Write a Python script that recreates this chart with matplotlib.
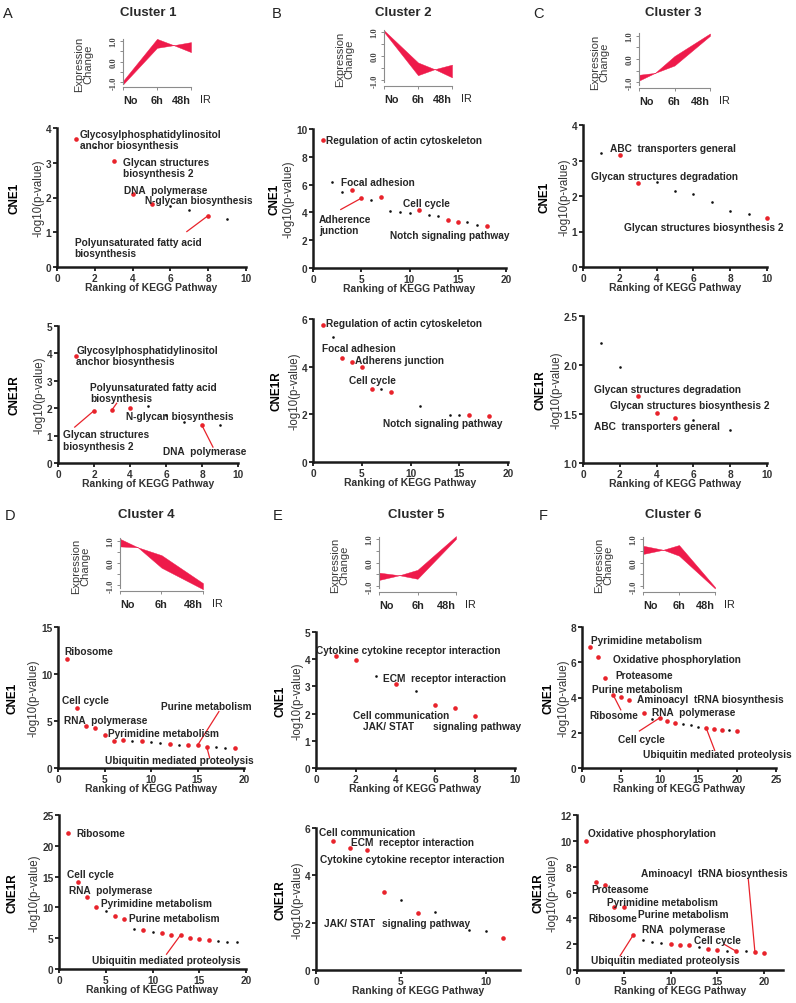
import matplotlib
matplotlib.use('Agg')
import matplotlib.pyplot as plt
from matplotlib.ticker import FuncFormatter

plt.rcParams['font.family'] = ['Liberation Sans', 'DejaVu Sans']

# ---------------- DATA ----------------
time_labels = ["No", "6h", "48h"]

# expression-change bands (x in time-index units, upper / lower envelope)
c1_x = [0, 1, 1.49, 2];  c1_hi = [-0.95, 1.11, 0.80, 0.95];  c1_lo = [-1.12, 0.67, 0.80, 0.46]
c2_x = [0, 1, 1.49, 2];  c2_hi = [1.07, -0.27, -0.55, -0.36]; c2_lo = [1.00, -0.80, -0.55, -0.89]
c3_x = [0, 0.45, 1, 2];  c3_hi = [-0.68, -0.60, 0.13, 1.10];  c3_lo = [-0.93, -0.60, -0.28, 1.00]
c4_x = [0, 0.43, 1, 2];  c4_hi = [1.08, 0.70, 0.35, -0.90];   c4_lo = [0.74, 0.70, -0.21, -1.17]
c5_x = [0, 0.53, 1, 2];  c5_hi = [-0.43, -0.54, -0.31, 1.12]; c5_lo = [-0.74, -0.54, -0.69, 1.00]
c6_x = [0, 0.56, 1, 2];  c6_hi = [0.71, 0.54, 0.74, -1.04];   c6_lo = [0.36, 0.54, 0.29, -1.10]

# Cluster 1
a1_rank = [1, 2, 3, 4, 5, 6, 7, 8, 9]
a1_val = [3.68, 3.44, 3.06, 2.10, 1.82, 1.76, 1.63, 1.48, 1.38]
a1_sig = [1, 0, 1, 1, 1, 0, 0, 1, 0]
a1_terms = ["Glycosylphosphatidylinositol\nanchor biosynthesis", "Glycan structures\nbiosynthesis 2",
            "DNA  polymerase", "N-glycan biosynthesis", "Polyunsaturated fatty acid\nbiosynthesis"]
a2_rank = [1, 2, 3, 4, 5, 6, 7, 8, 9]
a2_val = [3.89, 1.91, 1.94, 2.00, 2.09, 1.75, 1.49, 1.37, 1.39]
a2_sig = [1, 1, 1, 1, 0, 0, 0, 1, 0]
a2_terms = ["Glycosylphosphatidylinositol\nanchor biosynthesis", "Polyunsaturated fatty acid\nbiosynthesis",
            "N-glycan biosynthesis", "Glycan structures\nbiosynthesis 2", "DNA  polymerase"]

# Cluster 2
b1_rank = list(range(1, 19))
b1_val = [9.23, 6.22, 5.45, 5.62, 5.02, 4.90, 5.14, 4.07, 4.02, 3.95, 4.14, 3.83, 3.71, 3.42, 3.33, 3.33, 3.11, 3.01]
b1_sig = [1, 0, 0, 1, 1, 0, 1, 0, 0, 0, 1, 0, 0, 1, 1, 0, 0, 1]
b1_terms = ["Regulation of actin cytoskeleton", "Focal adhesion", "Adherence\njunction", "Cell cycle",
            "Notch signaling pathway"]
b2_rank = [1, 2, 3, 4, 5, 6, 7, 8, 11, 14, 15, 16, 18]
b2_val = [5.75, 5.23, 4.37, 4.21, 3.97, 3.07, 3.07, 2.93, 2.34, 1.99, 1.99, 1.99, 1.95]
b2_sig = [1, 0, 1, 1, 1, 1, 0, 1, 0, 0, 0, 1, 1]
b2_terms = ["Regulation of actin cytoskeleton", "Focal adhesion", "Adherens junction", "Cell cycle",
            "Notch signaling pathway"]

# Cluster 3
c1s_rank = list(range(1, 11))
c1s_val = [3.20, 3.15, 2.36, 2.40, 2.13, 2.06, 1.84, 1.57, 1.48, 1.38]
c1s_sig = [0, 1, 1, 0, 0, 0, 0, 0, 0, 1]
c1s_terms = ["ABC  transporters general", "Glycan structures degradation", "Glycan structures biosynthesis 2"]
c2s_rank = [1, 2, 3, 4, 5, 6, 8]
c2s_val = [2.22, 1.975, 1.68, 1.51, 1.457, 1.44, 1.34]
c2s_sig = [0, 0, 1, 1, 1, 0, 0]
c2s_terms = ["Glycan structures degradation", "Glycan structures biosynthesis 2", "ABC  transporters general"]

# Cluster 4
d1_rank = list(range(1, 20))
d1_val = [11.63, 6.42, 4.47, 4.26, 3.55, 2.87, 2.94, 2.84, 2.84, 2.77, 2.70, 2.59, 2.48, 2.41, 2.41, 2.23, 2.23, 2.16, 2.13]
d1_sig = [1, 1, 1, 1, 1, 1, 1, 0, 1, 0, 0, 1, 0, 1, 1, 1, 0, 0, 1]
d1_terms = ["Ribosome", "Cell cycle", "RNA  polymerase", "Pyrimidine metabolism", "Purine metabolism",
            "Ubiquitin mediated proteolysis"]
d2_rank = list(range(1, 20))
d2_val = [22.08, 14.2, 11.63, 10.0, 9.47, 8.66, 8.12, 6.49, 6.33, 5.95, 5.79, 5.57, 5.52, 4.98, 4.87, 4.76, 4.6, 4.33, 4.33]
d2_sig = [1, 1, 1, 1, 0, 1, 1, 0, 1, 0, 1, 1, 1, 1, 1, 1, 0, 0, 0]
d2_terms = ["Ribosome", "Cell cycle", "RNA  polymerase", "Pyrimidine metabolism", "Purine metabolism",
            "Ubiquitin mediated proteolysis"]

# Cluster 5
e1_rank = [1, 2, 3, 4, 5, 6, 7, 8]
e1_val = [4.10, 3.98, 3.39, 3.09, 2.84, 2.32, 2.20, 1.90]
e1_sig = [1, 1, 0, 1, 0, 1, 1, 1]
e1_terms = ["Cytokine cytokine receptor interaction", "ECM  receptor interaction", "Cell communication",
            "JAK/ STAT", "signaling pathway"]
e2_rank = [1, 2, 3, 4, 5, 6, 7, 9, 10, 11]
e2_val = [5.47, 5.15, 5.09, 3.31, 2.97, 2.40, 2.43, 1.68, 1.63, 1.37]
e2_sig = [1, 1, 1, 1, 0, 1, 0, 0, 0, 1]
e2_terms = ["Cell communication", "ECM  receptor interaction", "Cytokine cytokine receptor interaction",
            "JAK/ STAT", "signaling pathway"]

# Cluster 6
f1_rank = [1, 2, 3, 4, 5, 6, 8, 9, 10, 11, 12, 13, 14, 15, 16, 17, 18, 19, 20]
f1_val = [6.86, 6.30, 5.12, 4.16, 4.03, 3.84, 3.14, 2.80, 2.84, 2.67, 2.55, 2.48, 2.42, 2.35, 2.27, 2.23, 2.14, 2.14, 2.08]
f1_sig = [1, 1, 1, 1, 1, 1, 1, 0, 1, 1, 1, 0, 0, 0, 1, 1, 1, 0, 1]
f1_terms = ["Pyrimidine metabolism", "Oxidative phosphorylation", "Proteasome", "Purine metabolism",
            "Aminoacyl  tRNA biosynthesis", "Ribosome", "RNA  polymerase", "Cell cycle",
            "Ubiquitin mediated proteolysis"]
f2_rank = list(range(1, 21))
f2_val = [10.0, 6.8, 6.6, 4.9, 4.9, 2.7, 2.3, 2.2, 2.1, 2.0, 1.95, 1.95, 1.75, 1.65, 1.55, 1.5, 1.45, 1.45, 1.4, 1.35]
f2_sig = [1, 1, 1, 1, 1, 1, 0, 0, 0, 1, 1, 1, 0, 1, 1, 0, 1, 0, 1, 1]
f2_terms = ["Oxidative phosphorylation", "Aminoacyl  tRNA biosynthesis", "Proteasome", "Pyrimidine metabolism",
            "Purine metabolism", "Ribosome", "RNA  polymerase", "Cell cycle", "Ubiquitin mediated proteolysis"]

# ---------------- LAYOUT / STYLE ----------------
W, H = 796, 1004
fig = plt.figure(figsize=(W / 100, H / 100), dpi=100)
RED = '#e8232b'
BAND = '#ee1a4a'
TXT = '#262626'
GRAY = '#8c8c8c'


def rect(l, r, t, b):
    return [l / W, 1 - b / H, (r - l) / W, (b - t) / H]


def ftext(x, y, s, **kw):
    fig.text(x / W, 1 - y / H, s, **kw)


def mini(px, xs, hi, lo):
    l, r, t, b = px
    ax = fig.add_axes(rect(l, r, t, b))
    ax.fill_between(xs, lo, hi, color=BAND, lw=0.3, edgecolor=BAND)
    ax.set_xlim(0, 2)
    ax.set_ylim(-1.25, 1.25)
    for s in ['top', 'right']:
        ax.spines[s].set_visible(False)
    for s in ['left', 'bottom']:
        ax.spines[s].set_color(GRAY)
        ax.spines[s].set_linewidth(0.8)
    ax.spines['left'].set_bounds(-1.1, 1.1)
    ax.set_yticks([-1, -0.5, 0, 0.5, 1])
    ax.set_yticklabels(['-1.0', '', '0.0', '', '1.0'], rotation=90, va='center',
                       fontsize=6, fontweight='bold', family='Liberation Serif', color='#444')
    ax.set_xticks([0, 1, 2])
    ax.set_xticklabels(time_labels, fontsize=7.8, fontweight='bold', color=TXT)
    for lab, ha in zip(ax.get_xticklabels(), ['left', 'center', 'right']):
        lab.set_ha(ha)
    ax.tick_params(axis='both', color=GRAY, length=2.5, width=0.7, pad=1.5)
    ax.tick_params(axis='x', pad=3)
    ftext(r + 9, b + 12, 'IR', fontsize=7.8, color=TXT, ha='left', va='center')
    ftext(l - 39, (t + b) / 2 + 2, 'Expression\nChange', fontsize=8, color='#3a3a3a',
          rotation=90, ha='center', va='center', linespacing=0.95)
    return ax


def scat(px, xlim, ylim, xticks, yticks, ranks, vals, sig, terms, tpos, leaders, row, row_x,
         yfmt=None):
    l, r, t, b = px
    ax = fig.add_axes(rect(l, r, t, b))
    rr = [x for x, s in zip(ranks, sig) if s]
    rv = [v for v, s in zip(vals, sig) if s]
    br = [x for x, s in zip(ranks, sig) if not s]
    bv = [v for v, s in zip(vals, sig) if not s]
    ax.scatter(br, bv, s=3.5, color='#111111', lw=0, zorder=3, clip_on=False)
    ax.scatter(rr, rv, s=11, color=RED, lw=0, zorder=4, clip_on=False)
    for term, (x, y) in zip(terms, tpos):
        ax.text(x, y, term, fontsize=7.3, fontweight='bold', color=TXT, ha='left', va='center',
                linespacing=1.15, zorder=5, clip_on=False)
    for rk, ex, ey in leaders:
        v = vals[ranks.index(rk)]
        ax.plot([rk, ex], [v, ey], color=RED, lw=0.9, zorder=4, clip_on=False)
    ax.set_xlim(*xlim)
    ax.set_ylim(*ylim)
    ax.set_xticks(xticks)
    ax.set_yticks(yticks)
    if yfmt:
        ax.yaxis.set_major_formatter(FuncFormatter(lambda v, p: yfmt.format(v)))
    for s in ['top', 'right']:
        ax.spines[s].set_visible(False)
    for s in ['left', 'bottom']:
        ax.spines[s].set_linewidth(1.8)
        ax.spines[s].set_color('#1a1a1a')
    ax.tick_params(axis='both', length=3, width=1.3, color='#1a1a1a', pad=1.0, labelsize=7.3,
                   labelcolor='#333333')
    for lab in ax.get_xticklabels() + ax.get_yticklabels():
        lab.set_fontweight('bold')
    ftext((l + r) / 2, b + 20, 'Ranking of KEGG Pathway', fontsize=7.5, fontweight='bold',
          color='#333333', ha='center', va='center')
    ax.set_ylabel('-log10(p-value)', fontsize=8.3, color='#333333', labelpad=1.0)
    ftext(row_x, (t + b) / 2, row, fontsize=8.5, fontweight='bold', color='black', rotation=90,
          ha='center', va='center')
    return ax


# panel letters & titles
for letter, lx, ly, title, tx in [('A', 8, 14, 'Cluster 1', 148), ('B', 277, 14, 'Cluster 2', 403),
                                  ('C', 538, 14, 'Cluster 3', 673), ('D', 10, 516, 'Cluster 4', 146),
                                  ('E', 278, 516, 'Cluster 5', 416), ('F', 543, 516, 'Cluster 6', 673)]:
    ftext(lx, ly, letter, fontsize=10.5, color='#222', ha='center', va='center')
    ftext(tx, ly - 1, title, fontsize=9.5, fontweight='bold', color='#2a2a2a', ha='center', va='center')

# mini expression plots (l, r, t, b in pixels)
mini((123, 191, 37, 88), c1_x, c1_hi, c1_lo)
mini((384, 452, 27, 87), c2_x, c2_hi, c2_lo)
mini((639, 710, 31, 89), c3_x, c3_hi, c3_lo)
mini((120, 203, 536, 592), c4_x, c4_hi, c4_lo)
mini((379, 456, 534, 593), c5_x, c5_hi, c5_lo)
mini((643, 715, 534, 593), c6_x, c6_hi, c6_lo)

# scatter panels
scat((57, 246, 129, 268), (0, 10), (0, 4), range(0, 11, 2), range(0, 5),
     a1_rank, a1_val, a1_sig, a1_terms,
     [(1.2, 3.67), (3.5, 2.86), (3.56, 2.23), (4.65, 1.94), (0.94, 0.57)],
     [(8, 6.87, 1.02)], 'CNE1', 15)
scat((58, 238, 327, 464), (0, 10), (0, 5), range(0, 11, 2), range(0, 6),
     a2_rank, a2_val, a2_sig, a2_terms,
     [(1.02, 3.91), (1.8, 2.58), (3.8, 1.73), (0.28, 0.84), (5.83, 0.44)],
     [(3, 3.26, 2.18), (2, 0.93, 1.31), (8, 8.61, 0.58)], 'CNE1R', 15)
scat((313, 506, 130, 269), (0, 20), (0, 10), range(0, 21, 5), range(0, 11, 2),
     b1_rank, b1_val, b1_sig, b1_terms,
     [(1.39, 9.23), (2.95, 6.17), (0.62, 3.15), (9.36, 4.67), (7.97, 2.34)],
     [(5, 2.88, 4.21)], 'CNE1', 274)
scat((313, 508, 320, 463), (0, 20), (0, 6), range(0, 21, 5), range(0, 7, 2),
     b2_rank, b2_val, b2_sig, b2_terms,
     [(1.37, 5.83), (0.92, 4.77), (4.34, 4.28), (3.66, 3.42), (7.18, 1.65)],
     [], 'CNE1R', 277)
scat((583, 767, 126, 268), (0, 10), (0, 4), range(0, 11, 2), range(0, 5),
     c1s_rank, c1s_val, c1s_sig, c1s_terms,
     [(1.49, 3.36), (0.43, 2.57), (2.25, 1.12)],
     [], 'CNE1', 545)
scat((583, 767, 317, 464), (0, 10), (1.0, 2.5), range(0, 11, 2), [1.0, 1.5, 2.0, 2.5],
     c2s_rank, c2s_val, c2s_sig, c2s_terms,
     [(0.62, 1.76), (1.49, 1.59), (0.62, 1.38)],
     [], 'CNE1R', 541, yfmt='{:.1f}')

scat((58, 244, 628, 769), (0, 20), (0, 15), range(0, 21, 5), range(0, 16, 5),
     d1_rank, d1_val, d1_sig, d1_terms,
     [(0.66, 12.45), (0.38, 7.2), (0.66, 5.14), (5.42, 3.76), (11.07, 6.56), (5.04, 0.82)],
     [(15, 17.3, 6.0), (16, 16.3, 1.1)], 'CNE1', 13)
scat((316, 515, 633, 769), (0, 10), (0, 5), range(0, 11, 2), range(0, 6),
     e1_rank, e1_val, e1_sig, e1_terms,
     [(0.0, 4.34), (3.38, 3.3), (1.87, 1.96), (2.36, 1.54), (5.9, 1.54)],
     [], 'CNE1', 280)
scat((582, 776, 628, 769), (0, 25), (0, 8), range(0, 26, 5), range(0, 9, 2),
     f1_rank, f1_val, f1_sig, f1_terms,
     [(1.18, 7.24), (3.95, 6.2), (4.28, 5.29), (1.3, 4.5), (7.1, 3.89), (0.99, 2.99), (9.08, 3.18),
      (4.6, 1.66), (7.9, 0.78)],
     [(4, 5.0, 3.3), (10, 7.4, 2.1), (16, 17.1, 1.0)], 'CNE1', 549)

scat((59, 246, 816, 970), (0, 20), (0, 25), range(0, 21, 5), range(0, 26, 5),
     d2_rank, d2_val, d2_sig, d2_terms,
     [(1.87, 22.0), (0.9, 15.4), (1.07, 12.9), (4.53, 10.7), (7.47, 8.28), (3.57, 1.52)],
     [(13, 11.5, 2.4)], 'CNE1R', 13)
scat((316, 520, 829, 971), (0, 12), (0, 6), [0, 5, 10], range(0, 7, 2),
     e2_rank, e2_val, e2_sig, e2_terms,
     [(0.15, 5.83), (2.05, 5.4), (0.24, 4.67), (0.45, 1.98), (3.9, 1.98)],
     [], 'CNE1R', 281)
scat((577, 783, 816, 971), (0, 22), (0, 12), range(0, 21, 5), range(0, 13, 2),
     f2_rank, f2_val, f2_sig, f2_terms,
     [(1.2, 10.6), (6.8, 7.5), (1.5, 6.3), (3.2, 5.3), (6.5, 4.35), (1.2, 4.0), (6.9, 3.2), (12.5, 2.3),
      (1.5, 0.8)],
     [(19, 18.3, 7.0), (6, 4.6, 1.1), (17, 15.7, 2.0)], 'CNE1R', 538)

fig.savefig('out.png', dpi=100, facecolor='white')
